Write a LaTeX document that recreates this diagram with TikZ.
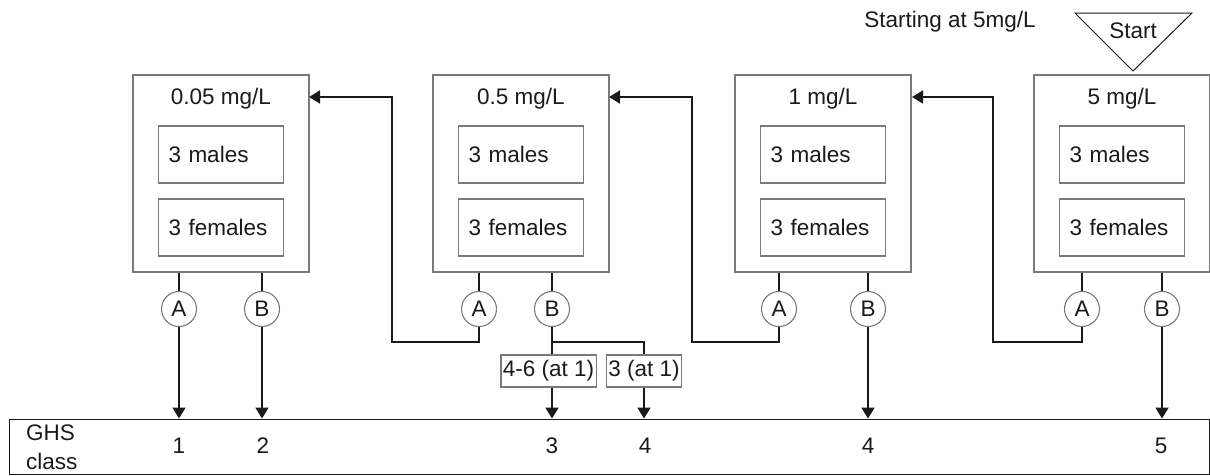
\documentclass[tikz,border=0pt]{standalone}
\usepackage{fontspec}
\setmainfont{Liberation Sans}
\usetikzlibrary{arrows.meta}
\definecolor{ink}{HTML}{1A1A1A}
\definecolor{boxgray}{HTML}{7A7A7A}
\begin{document}
\begin{tikzpicture}[x=1pt,y=-1pt,
  font=\fontsize{22.5}{27}\selectfont,
  every node/.style={text=ink},
  outerbox/.style={draw=boxgray,line width=1.4pt,minimum width=176pt,minimum height=197pt,inner sep=0pt},
  innerbox/.style={draw=boxgray,line width=1.4pt,minimum width=125pt,minimum height=57pt,text width=105pt,inner xsep=10pt,inner ysep=0pt,align=left},
  circ/.style={circle,draw=boxgray,line width=1.1pt,minimum size=35pt,inner sep=0pt,fill=white},
  lab/.style={draw=boxgray,line width=1.3pt,minimum height=32pt,inner xsep=2pt,inner ysep=0pt},
  conn/.style={draw=ink,line width=1.8pt},
  arr/.style={conn,-{Triangle[width=13pt,length=11pt]}},
  num/.style={inner sep=0pt}
]
\useasboundingbox (0,0) rectangle (1210,475);

% top annotation
\node[num] (starttxt) at (950,22) {Starting at 5mg/L};
\draw[draw=ink,line width=1pt] (1075,13) -- (1192,13) -- (1133,71) -- cycle;
\node[num] (start) at (1133,31) {Start};

% concentration boxes
\foreach \n/\x in {1/221,2/521,3/823,4/1122}{
  \node[outerbox] (b\n) at (\x,173.5) {};
  \node[innerbox] (m\n) at (\x,154.5) {3 males};
  \node[innerbox] (f\n) at (\x,227.5) {3 females};
}
\node[num] (t1) at (221,99) {0.05 mg/L};
\node[num] (t2) at (521,99) {0.5 mg/L};
\node[num] (t3) at (823,99) {1 mg/L};
\node[num] (t4) at (1122,99) {5 mg/L};

% GHS class bar
\node[draw=ink,line width=1pt,minimum width=1200pt,minimum height=55pt,inner sep=0pt] (ghs) at (609,446.5) {};
\node[align=left,anchor=west,inner sep=0pt,font=\fontsize{22.5}{29}\selectfont] (ghstxt) at (26,447) {GHS\\class};

% circles
\foreach \n/\xa/\xb in {1/179/262,2/479/552,3/779/868,4/1082/1162}{
  \node[circ] (A\n) at (\xa,309) {A};
  \node[circ] (B\n) at (\xb,309) {B};
  \draw[conn] (A\n.north |- b\n.south) -- (A\n.north);
  \draw[conn] (B\n.north |- b\n.south) -- (B\n.north);
}

% coordinates for step-down routes
\coordinate (k2) at (392,342);
\coordinate (k3) at (692,342);
\coordinate (k4) at (993,342);
\coordinate (in1) at (309,97);
\coordinate (in2) at (609,97);
\coordinate (in3) at (912,97);

\draw[arr] (A2.south) |- (k2) |- (in1);
\draw[arr] (A3.south) |- (k3) |- (in2);
\draw[arr] (A4.south) |- (k4) |- (in3);

% labels for 0.5 mg/L B
\node[lab] (L1) at (548.5,371) {4-6 (at 1)};
\node[lab] (L2) at (644,371) {3 (at 1)};
\coordinate (sp) at (552,342);
\draw[conn] (B2.south) -- (B2.south |- L1.north);
\draw[conn] (sp) -| (L2.north);
\draw[arr] (B2.south |- L1.south) -- (B2.south |- ghs.north);
\draw[arr] (L2.south) -- (L2.south |- ghs.north);

% direct arrows
\draw[arr] (A1.south) -- (A1.south |- ghs.north);
\draw[arr] (B1.south) -- (B1.south |- ghs.north);
\draw[arr] (B3.south) -- (B3.south |- ghs.north);
\draw[arr] (B4.south) -- (B4.south |- ghs.north);

% GHS numbers
\node[num] (g1) at (179,446) {1};
\node[num] (g2) at (263,446) {2};
\node[num] (g3) at (552,446) {3};
\node[num] (g4) at (645,446) {4};
\node[num] (g5) at (868,446) {4};
\node[num] (g6) at (1161,446) {5};
\end{tikzpicture}
\end{document}
